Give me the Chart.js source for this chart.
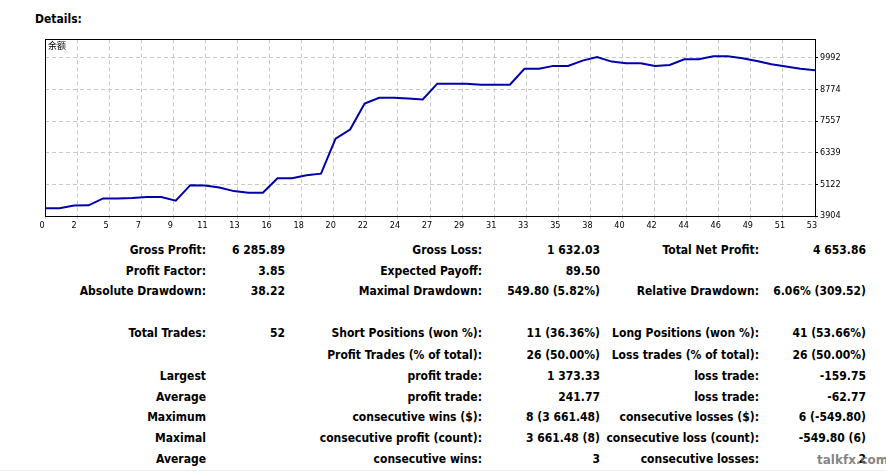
<!DOCTYPE html>
<html>
<head>
<meta charset="utf-8">
<script src="https://cdn.jsdelivr.net/npm/chart.js@4"></script>
<style>
  html, body { margin: 0; padding: 0; background: #fff; }
  body { width: 886px; height: 472px; position: relative; overflow: hidden;
         font-family: "DejaVu Sans Condensed", "DejaVu Sans", sans-serif; font-stretch: condensed; }
  #title { position: absolute; left: 35px; top: 12px; font-size: 12px; font-weight: bold; color: #000; }
  #wrap { position: absolute; left: 30px; top: 32px; width: 856px; height: 205px; }
  #series { position: absolute; left: 48px; top: 39px; font-size: 9px; color: #000;
            font-family: "Noto Sans CJK SC", sans-serif; }
  .cell { position: absolute; font-size: 12px; font-weight: bold; color: #000;
          line-height: 16px; white-space: nowrap; text-align: right; }
  #mark { position: absolute; left: 817px; top: 453px; font-family: "DejaVu Sans", sans-serif;
          font-size: 12px; font-weight: bold; color: rgba(110,110,110,0.85); font-stretch: normal; }
  #rule { position: absolute; left: 0; top: 470px; width: 886px; height: 1px; background: #eee; }
</style>
</head>
<body>
<div id="title">Details:</div>
<div id="wrap"><canvas id="balanceChart"></canvas></div>
<div id="series">余额</div>
<div id="stats"></div>
<div id="rule"></div>
<div id="mark">talkfx.com</div>
<script>
// balance after each trade
const balance = [
  4202, 4202, 4304, 4316, 4582, 4582, 4595, 4633, 4633, 4494,
  5090, 5077, 5001, 4862, 4798, 4798, 5356, 5356, 5470, 5534,
  6878, 7233, 8235, 8451, 8451, 8425, 8387, 8996, 8996, 8996,
  8958, 8958, 8958, 9567, 9567, 9681, 9681, 9884, 10024, 9845,
  9783, 9783, 9681, 9719, 9935, 9935, 10049, 10049, 9973, 9871,
  9745, 9656, 9567, 9516
];
const xMax = 53;
const xTickLabels = ['0', '2', '5', '7', '9', '11', '13', '16', '18', '20', '22', '24', '27',
  '29', '31', '33', '35', '38', '40', '42', '44', '46', '49', '51', '53'];
const yTicks = [3904, 5122, 6339, 7557, 8774, 9992];
const yMax = 10700;

const statRows = [
  ['Gross Profit:', '6 285.89', 'Gross Loss:', '1 632.03', 'Total Net Profit:', '4 653.86'],
  ['Profit Factor:', '3.85', 'Expected Payoff:', '89.50', '', ''],
  ['Absolute Drawdown:', '38.22', 'Maximal Drawdown:', '549.80 (5.82%)', 'Relative Drawdown:', '6.06% (309.52)'],
  ['Total Trades:', '52', 'Short Positions (won %):', '11 (36.36%)', 'Long Positions (won %):', '41 (53.66%)'],
  ['', '', 'Profit Trades (% of total):', '26 (50.00%)', 'Loss trades (% of total):', '26 (50.00%)'],
  ['Largest', '', 'profit trade:', '1 373.33', 'loss trade:', '-159.75'],
  ['Average', '', 'profit trade:', '241.77', 'loss trade:', '-62.77'],
  ['Maximum', '', 'consecutive wins ($):', '8 (3 661.48)', 'consecutive losses ($):', '6 (-549.80)'],
  ['Maximal', '', 'consecutive profit (count):', '3 661.48 (8)', 'consecutive loss (count):', '-549.80 (6)'],
  ['Average', '', 'consecutive wins:', '3', 'consecutive losses:', '2']
];
const rowTops = [250, 270.7, 291, 333.3, 354.7, 375.7, 396.7, 417, 438.3, 459.3];
const colRights = [206, 285, 482, 600, 759, 866];

const stats = document.getElementById('stats');
statRows.forEach((row, r) => {
  row.forEach((text, c) => {
    if (!text) return;
    const d = document.createElement('div');
    d.className = 'cell';
    d.textContent = text;
    d.style.right = (886 - colRights[c]) + 'px';
    d.style.top = (rowTops[r] - 8) + 'px';
    stats.appendChild(d);
  });
});

const framePlugin = {
  id: 'frame',
  afterDraw(chart) {
    const { ctx, chartArea: a } = chart;
    ctx.save();
    ctx.strokeStyle = '#000';
    ctx.lineWidth = 1;
    ctx.strokeRect(Math.round(a.left) + 0.5, Math.round(a.top) + 0.5,
      Math.round(a.right - a.left), Math.round(a.bottom - a.top));
    ctx.restore();
  }
};

const axisFont = { family: '"DejaVu Sans Condensed", "DejaVu Sans", sans-serif', size: 9 };

new Chart(document.getElementById('balanceChart'), {
  type: 'line',
  data: {
    datasets: [{
      data: balance.map((v, i) => ({ x: i, y: v })),
      borderColor: '#0000aa',
      borderWidth: 2,
      pointRadius: 0,
      tension: 0,
      fill: false
    }]
  },
  options: {
    responsive: true,
    maintainAspectRatio: false,
    animation: false,
    layout: { padding: { left: 15, top: 5, right: 0, bottom: 0 } },
    plugins: { legend: { display: false }, tooltip: { enabled: false } },
    scales: {
      x: {
        type: 'linear',
        min: 0,
        max: xMax,
        afterBuildTicks: s => { s.ticks = xTickLabels.map((l, k) => ({ value: k * xMax / 24 })); },
        afterFit: s => { s.height = 21; },
        ticks: {
          autoSkip: false, maxRotation: 0, padding: 1, labelOffset: -3,
          color: '#000', font: axisFont,
          callback: (v, i) => xTickLabels[i]
        },
        grid: { color: '#c8c8c8', tickColor: '#c8c8c8', tickLength: 3 },
        border: { display: false, dash: [4, 3] }
      },
      y: {
        position: 'right',
        min: yTicks[0],
        max: yMax,
        afterBuildTicks: s => { s.ticks = yTicks.map(v => ({ value: v })); },
        afterFit: s => { s.width = 71; },
        ticks: {
          padding: 2, color: '#000', font: axisFont,
          callback: v => String(Math.round(v))
        },
        grid: { color: '#c8c8c8', tickColor: '#000', tickLength: 3 },
        border: { display: false, dash: [4, 3] }
      }
    }
  },
  plugins: [framePlugin]
});
</script>
</body>
</html>
